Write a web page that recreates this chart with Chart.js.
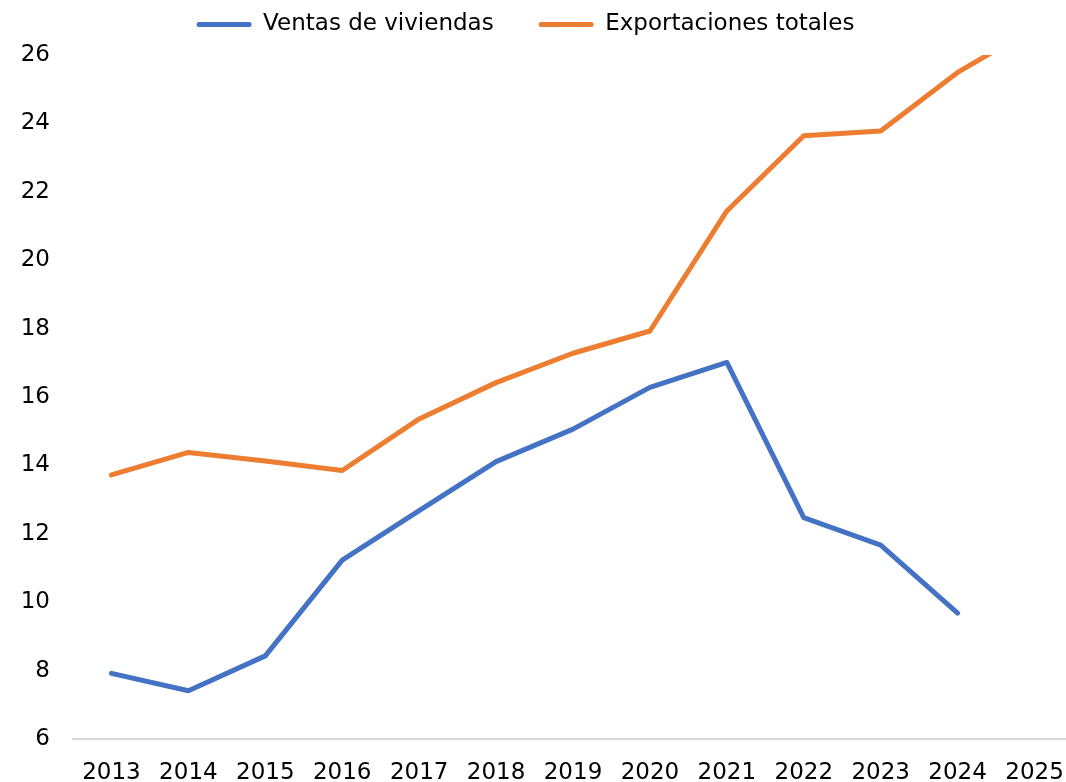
<!DOCTYPE html>
<html>
<head>
<meta charset="utf-8">
<script src="https://cdn.jsdelivr.net/npm/chart.js@4/dist/chart.umd.min.js"></script>
<style>
  html, body { margin: 0; padding: 0; background: #fff; overflow: hidden; }
  #wrap { width: 1073px; height: 782px; }
</style>
</head>
<body>
<div id="wrap"><canvas id="chart" width="1073" height="782"></canvas></div>
<script>
const years = ["2013", "2014", "2015", "2016", "2017", "2018", "2019", "2020", "2021", "2022", "2023", "2024", "2025"];
const ventasViviendas = [7.92, 7.41, 8.43, 11.23, 12.68, 14.11, 15.06, 16.28, 17.01, 12.47, 11.67, 9.68, null];
const exportacionesTotales = [13.72, 14.38, 14.13, 13.85, 15.36, 16.42, 17.28, 17.93, 21.44, 23.64, 23.78, 25.49, 26.8];
const yTicks = { min: 6, max: 26, step: 2 };

const BLUE = "#4472C4", ORANGE = "#ED7D31";
const FONT = { family: "'DejaVu Sans', Verdana, sans-serif", size: 23 };

// legend: fixed height, wide gap between items, pulled up so it sits like the original
const legendTweak = {
  id: "legendTweak",
  beforeInit(chart) {
    const fit = chart.legend.fit;
    chart.legend.fit = function () { fit.call(this); this.height = 55; };
  },
  afterLayout(chart) {
    const lg = chart.legend;
    lg.top -= 32;            // bottom stays, so the clip box still covers the items
    lg.left -= 11; lg.right -= 11;
  },
};

new Chart(document.getElementById("chart"), {
  type: "line",
  data: {
    labels: years,
    datasets: [
      { label: "Ventas de viviendas", data: ventasViviendas, borderColor: BLUE, backgroundColor: BLUE },
      { label: "Exportaciones totales", data: exportacionesTotales, borderColor: ORANGE, backgroundColor: ORANGE },
    ],
  },
  options: {
    responsive: false,
    animation: false,
    layout: { padding: 0 },
    elements: {
      line: { borderWidth: 5, tension: 0, borderCapStyle: "round", borderJoinStyle: "round" },
      point: { radius: 0, hoverRadius: 0 },
    },
    plugins: {
      tooltip: { enabled: false },
      legend: {
        position: "top",
        labels: {
          font: FONT, color: "#000", padding: 45,
          boxWidth: 55, boxHeight: 5, useBorderRadius: true, borderRadius: 2.5,
          generateLabels: (chart) =>
            Chart.defaults.plugins.legend.labels.generateLabels(chart).map(l => ({ ...l, lineWidth: 0 })),
        },
      },
    },
    scales: {
      x: {
        offset: true,
        grid: { display: false, drawTicks: false },
        border: { display: true, color: "#d9d9d9", width: 2 },
        ticks: { font: FONT, color: "#000", padding: 20, maxRotation: 0, autoSkip: false },
        afterFit: (s) => { s.height = 43; s.paddingLeft = 0; s.paddingRight = 0; },
      },
      y: {
        min: yTicks.min, max: yTicks.max,
        grid: { display: false, drawTicks: false },
        border: { display: false },
        ticks: { font: FONT, color: "#000", padding: 23, stepSize: yTicks.step },
        afterFit: (s) => { s.width = 73; },
      },
    },
  },
  plugins: [legendTweak],
});
</script>
</body>
</html>
